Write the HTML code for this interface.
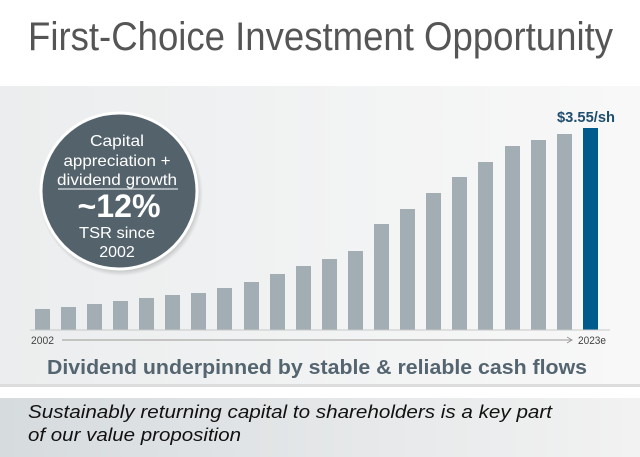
<!DOCTYPE html>
<html><head><meta charset="utf-8"><style>html,body{margin:0;padding:0;background:#fff}svg{display:block}</style></head>
<body>
<svg width="640" height="457" viewBox="0 0 640 457" xmlns="http://www.w3.org/2000/svg" font-family="Liberation Sans, sans-serif">
<defs>
<linearGradient id="bg" x1="0" y1="0" x2="1" y2="0"><stop offset="0" stop-color="#ebedee"/><stop offset="1" stop-color="#f8f8f8"/></linearGradient>
<linearGradient id="bb" x1="0" y1="0" x2="1" y2="0"><stop offset="0" stop-color="#d6dbde"/><stop offset="1" stop-color="#f2f2f2"/></linearGradient>
<radialGradient id="sh"><stop offset="0.85" stop-color="#000" stop-opacity="0.35"/><stop offset="1" stop-color="#000" stop-opacity="0"/></radialGradient>
</defs>
<text x="28" y="50" font-size="40" fill="#555" textLength="585" lengthAdjust="spacingAndGlyphs">First-Choice Investment Opportunity</text>
<rect x="0" y="86" width="640" height="298" fill="url(#bg)"/>
<rect x="0" y="384" width="640" height="3" fill="#dcdcdc"/>
<rect x="0" y="398" width="640" height="59" fill="url(#bb)"/>
<g fill="#a2adb4">
<rect x="35" y="309" width="15" height="21"/><rect x="61" y="307" width="15" height="23"/><rect x="87" y="304" width="15" height="26"/><rect x="113" y="301" width="15" height="29"/><rect x="139" y="298" width="15" height="32"/><rect x="165" y="295" width="15" height="35"/><rect x="191" y="293" width="15" height="37"/><rect x="217" y="288" width="15" height="42"/><rect x="244" y="282" width="15" height="48"/><rect x="270" y="274" width="15" height="56"/><rect x="296" y="266" width="15" height="64"/><rect x="322" y="259" width="15" height="71"/><rect x="348" y="251" width="15" height="79"/><rect x="374" y="224" width="15" height="106"/><rect x="400" y="209" width="15" height="121"/><rect x="426" y="193" width="15" height="137"/><rect x="452" y="177" width="15" height="153"/><rect x="478" y="162" width="15" height="168"/><rect x="505" y="146" width="15" height="184"/><rect x="531" y="140" width="15" height="190"/><rect x="557" y="134" width="15" height="196"/>
</g>
<rect x="583" y="128" width="15" height="202" fill="#005a8b"/>
<line x1="30" y1="330" x2="610" y2="330" stroke="#c8c8c8" stroke-width="1"/>
<text x="557" y="122" font-size="15" font-weight="bold" fill="#1f4e6e" textLength="58" lengthAdjust="spacingAndGlyphs">$3.55/sh</text>
<text x="31" y="344" font-size="11" fill="#444" textLength="23" lengthAdjust="spacingAndGlyphs">2002</text>
<text x="578" y="344" font-size="11" fill="#444" textLength="28" lengthAdjust="spacingAndGlyphs">2023e</text>
<line x1="62" y1="340" x2="572" y2="340" stroke="#999" stroke-width="1"/>
<path d="M567 337 L572 340 L567 343" fill="none" stroke="#999"/>
<circle cx="121" cy="194" r="82" fill="url(#sh)"/>
<circle cx="119" cy="191" r="78" fill="#53626b" stroke="#fff" stroke-width="3"/>
<g fill="#fff" text-anchor="middle" font-size="16">
<text x="117" y="146" textLength="54" lengthAdjust="spacingAndGlyphs">Capital</text>
<text x="117" y="166" textLength="107" lengthAdjust="spacingAndGlyphs">appreciation +</text>
<text x="117" y="185" textLength="120" lengthAdjust="spacingAndGlyphs">dividend growth</text>
<line x1="58" y1="189" x2="178" y2="189" stroke="#fff" stroke-width="1"/>
<text x="119" y="217" font-size="32" font-weight="bold" textLength="83" lengthAdjust="spacingAndGlyphs">~12%</text>
<text x="117" y="238" textLength="76" lengthAdjust="spacingAndGlyphs">TSR since</text>
<text x="117" y="257">2002</text>
</g>
<text x="47" y="374" font-size="20" font-weight="bold" fill="#546570" textLength="540" lengthAdjust="spacingAndGlyphs">Dividend underpinned by stable &amp; reliable cash flows</text>
<g font-size="18" font-style="italic" fill="#111">
<text x="28" y="418" textLength="524" lengthAdjust="spacingAndGlyphs">Sustainably returning capital to shareholders is a key part</text>
<text x="28" y="441" textLength="213" lengthAdjust="spacingAndGlyphs">of our value proposition</text>
</g>
</svg>
</body></html>
